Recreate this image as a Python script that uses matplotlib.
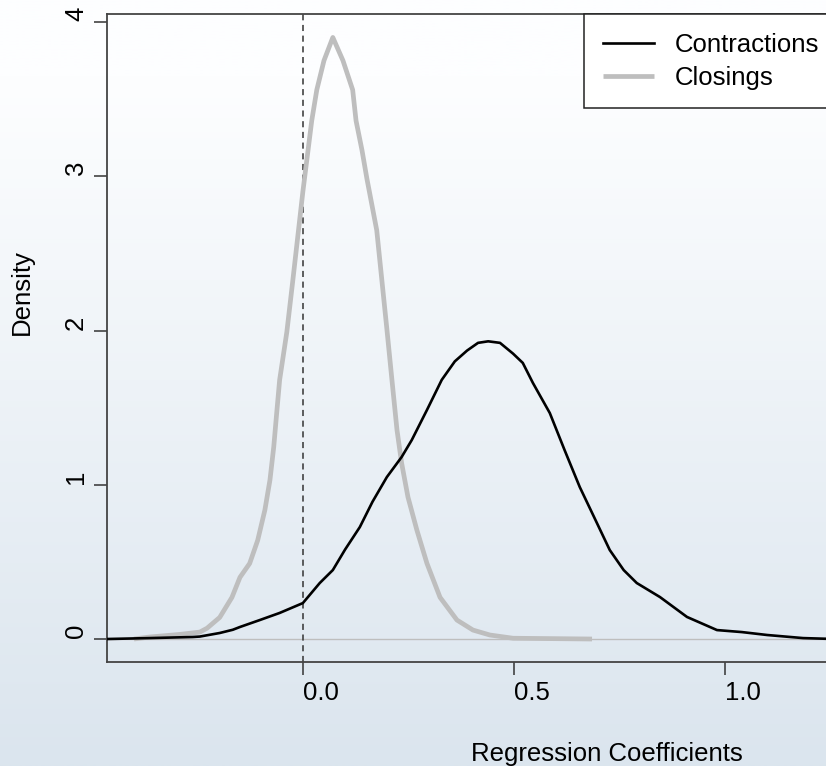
import numpy as np
import matplotlib
matplotlib.use("Agg")
import matplotlib.pyplot as plt
import matplotlib.transforms as mtransforms

plt.rcParams['font.family'] = ['Liberation Sans', 'DejaVu Sans']

# density estimates of the regression coefficients
contr_x = [-0.464, -0.363, -0.261, -0.244, -0.197, -0.166, -0.149, -0.102, -0.055,
           0.0, 0.040, 0.071, 0.100, 0.135, 0.165, 0.199, 0.234, 0.258, 0.294,
           0.329, 0.360, 0.389, 0.415, 0.439, 0.467, 0.498, 0.521, 0.545, 0.585,
           0.620, 0.656, 0.690, 0.727, 0.760, 0.791, 0.846, 0.910, 0.981, 1.04,
           1.10, 1.185, 1.26]
contr_y = [0.0, 0.006, 0.013, 0.016, 0.039, 0.06, 0.078, 0.123, 0.169,
           0.233, 0.363, 0.447, 0.58, 0.726, 0.89, 1.05, 1.18, 1.29, 1.485,
           1.68, 1.80, 1.87, 1.92, 1.93, 1.92, 1.85, 1.79, 1.66, 1.465,
           1.225, 0.985, 0.79, 0.577, 0.447, 0.363, 0.272, 0.143, 0.058, 0.045,
           0.026, 0.006, 0.0]

clos_x = [-0.40, -0.363, -0.291, -0.244, -0.227, -0.197, -0.168, -0.149, -0.126, -0.107,
          -0.090, -0.078, -0.069, -0.062, -0.055, -0.038, -0.024, 0.0, 0.021, 0.033,
          0.050, 0.071, 0.095, 0.118, 0.126, 0.140, 0.152, 0.159, 0.175, 0.187,
          0.199, 0.211, 0.223, 0.234, 0.249, 0.270, 0.294, 0.325, 0.365, 0.403,
          0.443, 0.498, 0.685]
clos_y = [0.0, 0.013, 0.03, 0.045, 0.07, 0.14, 0.27, 0.40, 0.49, 0.64,
          0.836, 1.03, 1.245, 1.465, 1.68, 1.99, 2.32, 2.9, 3.36, 3.56,
          3.75, 3.90, 3.75, 3.56, 3.36, 3.17, 2.98, 2.88, 2.65, 2.33,
          2.01, 1.68, 1.355, 1.14, 0.92, 0.707, 0.49, 0.27, 0.123, 0.058,
          0.026, 0.005, 0.0]

series_names = ["Contractions", "Closings"]

W, H = 826, 766
fig = plt.figure(figsize=(W / 100, H / 100), dpi=100)

# soft vertical gradient behind everything
bg = fig.add_axes([0, 0, 1, 1], zorder=-10)
top = np.array([253, 254, 255]) / 255
bot = np.array([219, 229, 238]) / 255
t = np.linspace(0, 1, 256)[:, None]
grad = top + (bot - top) * np.clip((t - 0.1) / 0.9, 0, 1)
bg.imshow(grad[:, None, :], aspect='auto', extent=[0, 1, 0, 1], origin='upper')
bg.axis('off')

# plot region runs past the right edge of the image
left, right = 107, 1107
bottom, topp = 662, 14
ax = fig.add_axes([left / W, 1 - bottom / H, (right - left) / W, (bottom - topp) / H])
ax.set_facecolor('none')

ax.axhline(0, color='#bebebe', lw=1, zorder=1)
ax.axvline(0, color='#333333', lw=1.1, ls=(0, (4, 3)), zorder=2)
ax.plot(contr_x, contr_y, color='black', lw=1.9, label=series_names[0], zorder=4)
ax.plot(clos_x, clos_y, color='#bebebe', lw=3.4, label=series_names[1], zorder=3,
        solid_capstyle='butt')

ax.set_xlim(-0.464, 1.905)
ax.set_ylim(-0.149, 4.052)
ax.set_xticks([0.0, 0.5, 1.0])
ax.set_xticklabels(["0.0", "0.5", "1.0"])
ax.set_yticks([0, 1, 2, 3, 4])
ax.set_yticklabels(["0", "1", "2", "3", "4"], rotation=90, va='center')

for s in ax.spines.values():
    s.set_color('#444444')
    s.set_linewidth(1.3)
ax.tick_params(direction='out', length=9.5, width=1.1, color='#333333',
               labelsize=18.5, pad=4)

# shift tick labels slightly
for lab in ax.get_xticklabels():
    lab.set_transform(lab.get_transform() + mtransforms.ScaledTranslation(18 / 100, 0, fig.dpi_scale_trans))
for lab in ax.get_yticklabels():
    lab.set_transform(lab.get_transform() + mtransforms.ScaledTranslation(0, 8 / 100, fig.dpi_scale_trans))

ax.set_xlabel("Regression Coefficients", fontsize=18.5)
ax.set_ylabel("Density", fontsize=18.5)
ax.xaxis.set_label_coords(607 / W, 1 - 742 / H, transform=fig.transFigure)
ax.xaxis.label.set_va('top')
ax.yaxis.set_label_coords(34 / W, 1 - 292 / H, transform=fig.transFigure)

leg = ax.legend(loc='upper left', bbox_to_anchor=(584 / W, 1 - 14 / H),
                bbox_transform=fig.transFigure, fontsize=18.5, frameon=True,
                fancybox=False, handlelength=2.0, handletextpad=0.8,
                borderpad=0.72, labelspacing=0.36, borderaxespad=0)
leg.get_frame().set_edgecolor('#222222')
leg.get_frame().set_linewidth(1.1)
leg.get_frame().set_facecolor('white')
leg.get_frame().set_alpha(1)

fig.savefig("out.png", dpi=100)
